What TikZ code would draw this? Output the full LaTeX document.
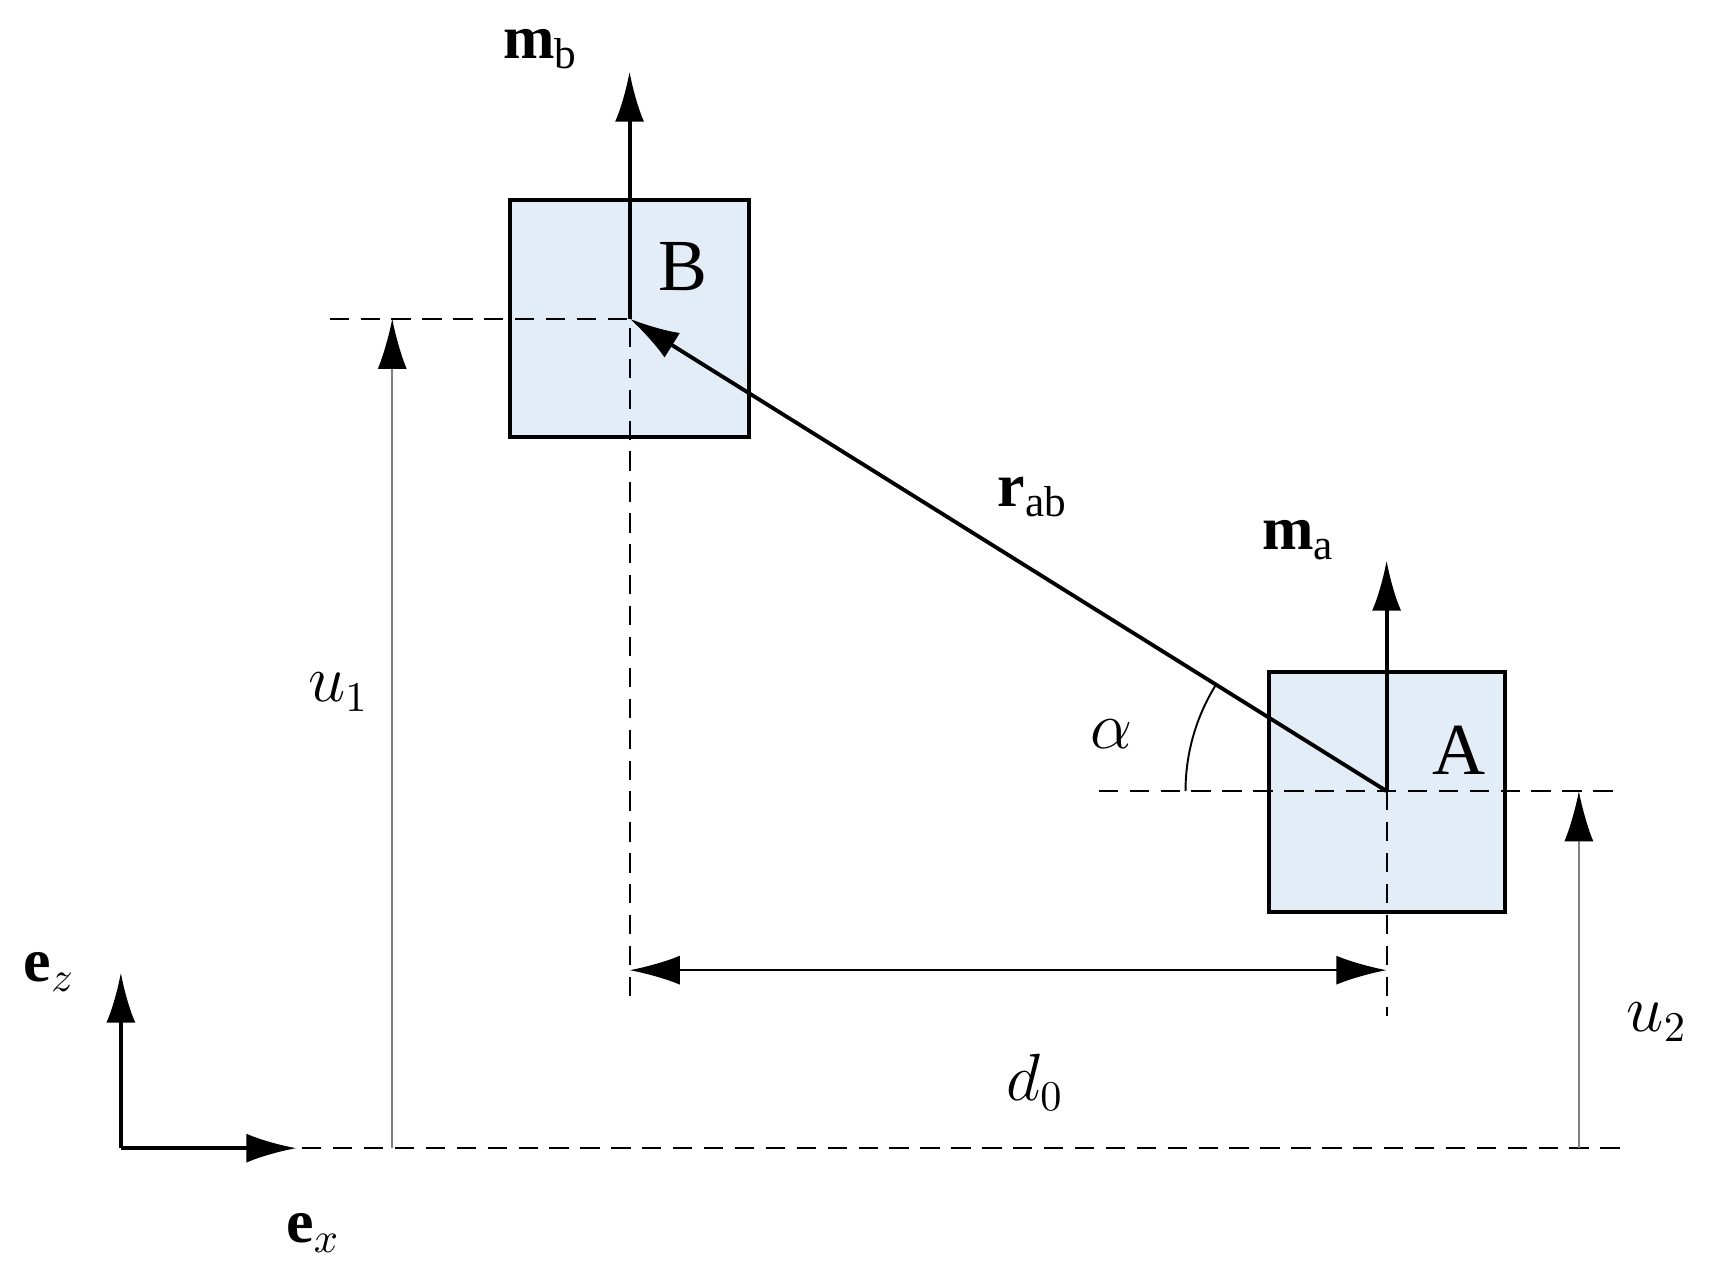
\documentclass[tikz,border=0pt]{standalone}
\usepackage{fontspec}
\setmainfont{Liberation Serif}
\usetikzlibrary{arrows.meta}
\definecolor{boxfill}{rgb}{0.89,0.93,0.97}
\begin{document}
\begin{tikzpicture}[x=0.01cm,y=-0.01cm,
  blk/.style={line width=1pt,-{Latex[length=13pt,width=7.5pt]}},
  gry/.style={line width=0.5pt,draw=gray,-{Latex[length=13pt,width=7.5pt,fill=black,color=black]}},
  dsh/.style={line width=0.5pt,dash pattern=on 5pt off 3pt},
  lbl/.style={font=\fontsize{16}{18}\selectfont,inner sep=0pt}]
\useasboundingbox (0,0) rectangle (1560,1170);
\fill[boxfill,draw=black,line width=1pt] (464,182) rectangle (682,398);
\fill[boxfill,draw=black,line width=1pt] (1155,612) rectangle (1370,830);
\coordinate (B) at (573,290);
\coordinate (A) at (1262,720);
\coordinate (mbt) at (573,65);
\coordinate (mat) at (1262,510);
\coordinate (O) at (110,1045);
\coordinate (ezt) at (110,885);
\coordinate (ext) at (270,1045);
\coordinate (u1b) at (357,1045);
\coordinate (u1t) at (357,290);
\coordinate (u2b) at (1437,1045);
\coordinate (u2t) at (1437,720);
\coordinate (dl) at (573,883);
\coordinate (dr) at (1262,883);
% dashed lines
\draw[dsh] (300,290) -- (B) -- (573,915);
\draw[dsh] (1000,720) -- (1470,720);
\draw[dsh] (A) -- (1262,925);
\draw[dsh] (275,1045) -- (1475,1045);
% arrows
\draw[blk] (B) -- (mbt);
\draw[blk] (A) -- (mat);
\draw[blk] (A) -- (B);
\draw[line width=0.6pt,{Latex[length=13pt,width=7.5pt]}-{Latex[length=13pt,width=7.5pt]}] (dl) -- (dr);
\draw[gry] (u1b) -- (u1t);
\draw[gry] (u2b) -- (u2t);
\draw[blk] (O) -- (ezt);
\draw[blk] (O) -- (ext);
\draw[line width=0.5pt] (A) ++(180:183) arc (180:212:183);
% labels
\node[lbl] (lB) at (622,243) {\fontsize{19}{20}\selectfont B};
\node[lbl] (lA) at (1328,683) {\fontsize{19}{20}\selectfont A};
\node[lbl] (lmb) at (492,45) {$\mathbf{m}_{\mathrm{b}}$};
\node[lbl] (lma) at (1182,492) {$\mathbf{m}_{\mathrm{a}}$};
\node[lbl] (lr) at (940,452) {$\mathbf{r}_{\mathrm{ab}}$};
\node[lbl] (ld) at (942,985) {$d_0$};
\node[lbl] (lu1) at (308,630) {$u_1$};
\node[lbl] (lu2) at (1508,930) {$u_2$};
\node[lbl] (lal) at (1012,668) {$\alpha$};
\node[lbl] (lez) at (45,885) {$\mathbf{e}_z$};
\node[lbl] (lex) at (285,1122) {$\mathbf{e}_x$};
\end{tikzpicture}
\end{document}
